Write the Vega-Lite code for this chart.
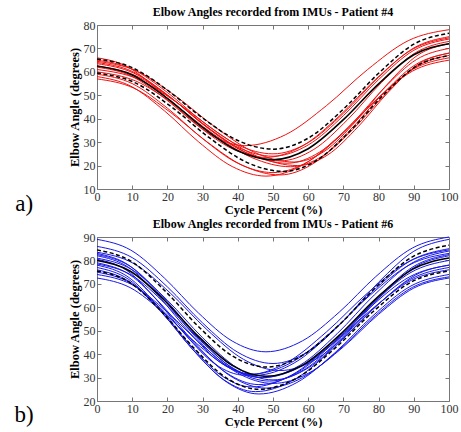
{
"$schema": "https://vega.github.io/schema/vega-lite/v6.json",
"padding": {"left": 14, "top": 5, "right": 6, "bottom": 0},
"background": "white",
"config": {
  "font": "Liberation Serif",
  "view": {"stroke": "#777", "strokeWidth": 1},
  "concat": {"spacing": 0},
  "axis": {"grid": false, "domain": false, "tickColor": "#777", "tickSize": -4, "labelFont": "Liberation Serif", "labelFontSize": 12, "labelColor": "#333", "labelPadding": 6, "labelFlush": false, "labelOverlap": false, "titleFont": "Liberation Serif", "titleFontSize": 12.5, "titleFontWeight": "bold", "titleColor": "black", "titlePadding": 2}
},
"datasets": {
"p4": [
{"c":"r1","k":"t","x":0,"y":66},{"c":"r1","k":"t","x":8.4,"y":62.4},{"c":"r1","k":"t","x":16.8,"y":53},{"c":"r1","k":"t","x":25.2,"y":41.5},{"c":"r1","k":"t","x":33.6,"y":32.1},{"c":"r1","k":"t","x":42,"y":28.5},{"c":"r1","k":"t","x":53.6,"y":33.2},{"c":"r1","k":"t","x":65.2,"y":45.6},{"c":"r1","k":"t","x":76.8,"y":60.9},{"c":"r1","k":"t","x":88.4,"y":73.3},{"c":"r1","k":"t","x":100,"y":78},
{"c":"r2","k":"t","x":0,"y":65},{"c":"r2","k":"t","x":10,"y":61.2},{"c":"r2","k":"t","x":20,"y":51.2},{"c":"r2","k":"t","x":30,"y":38.8},{"c":"r2","k":"t","x":40,"y":28.8},{"c":"r2","k":"t","x":50,"y":25},{"c":"r2","k":"t","x":60,"y":29.8},{"c":"r2","k":"t","x":70,"y":42.3},{"c":"r2","k":"t","x":80,"y":57.7},{"c":"r2","k":"t","x":90,"y":70.2},{"c":"r2","k":"t","x":100,"y":75},
{"c":"r3","k":"t","x":0,"y":64},{"c":"r3","k":"t","x":10,"y":60.2},{"c":"r3","k":"t","x":20,"y":50.2},{"c":"r3","k":"t","x":30,"y":37.8},{"c":"r3","k":"t","x":40,"y":27.8},{"c":"r3","k":"t","x":50,"y":24},{"c":"r3","k":"t","x":60,"y":28.8},{"c":"r3","k":"t","x":70,"y":41.3},{"c":"r3","k":"t","x":80,"y":56.7},{"c":"r3","k":"t","x":90,"y":69.2},{"c":"r3","k":"t","x":100,"y":74},
{"c":"r4","k":"t","x":0,"y":63.5},{"c":"r4","k":"t","x":10.4,"y":59.5},{"c":"r4","k":"t","x":20.8,"y":49.2},{"c":"r4","k":"t","x":31.2,"y":36.3},{"c":"r4","k":"t","x":41.6,"y":26},{"c":"r4","k":"t","x":52,"y":22},{"c":"r4","k":"t","x":61.6,"y":26.9},{"c":"r4","k":"t","x":71.2,"y":39.6},{"c":"r4","k":"t","x":80.8,"y":55.4},{"c":"r4","k":"t","x":90.4,"y":68.1},{"c":"r4","k":"t","x":100,"y":73},
{"c":"r5","k":"t","x":0,"y":62.5},{"c":"r5","k":"t","x":10.8,"y":58.5},{"c":"r5","k":"t","x":21.6,"y":48.2},{"c":"r5","k":"t","x":32.4,"y":35.3},{"c":"r5","k":"t","x":43.2,"y":25},{"c":"r5","k":"t","x":54,"y":21},{"c":"r5","k":"t","x":63.2,"y":25.7},{"c":"r5","k":"t","x":72.4,"y":37.9},{"c":"r5","k":"t","x":81.6,"y":53.1},{"c":"r5","k":"t","x":90.8,"y":65.3},{"c":"r5","k":"t","x":100,"y":70},
{"c":"r6","k":"t","x":0,"y":62},{"c":"r6","k":"t","x":9.6,"y":58.3},{"c":"r6","k":"t","x":19.2,"y":48.7},{"c":"r6","k":"t","x":28.8,"y":36.8},{"c":"r6","k":"t","x":38.4,"y":27.2},{"c":"r6","k":"t","x":48,"y":23.5},{"c":"r6","k":"t","x":58.4,"y":28.4},{"c":"r6","k":"t","x":68.8,"y":41.1},{"c":"r6","k":"t","x":79.2,"y":56.9},{"c":"r6","k":"t","x":89.6,"y":69.6},{"c":"r6","k":"t","x":100,"y":74.5},
{"c":"r7","k":"t","x":0,"y":61},{"c":"r7","k":"t","x":11.4,"y":57.1},{"c":"r7","k":"t","x":22.8,"y":46.8},{"c":"r7","k":"t","x":34.2,"y":34.2},{"c":"r7","k":"t","x":45.6,"y":23.9},{"c":"r7","k":"t","x":57,"y":20},{"c":"r7","k":"t","x":65.6,"y":24.6},{"c":"r7","k":"t","x":74.2,"y":36.6},{"c":"r7","k":"t","x":82.8,"y":51.4},{"c":"r7","k":"t","x":91.4,"y":63.4},{"c":"r7","k":"t","x":100,"y":68},
{"c":"r8","k":"t","x":0,"y":60},{"c":"r8","k":"t","x":11,"y":56.1},{"c":"r8","k":"t","x":22,"y":46},{"c":"r8","k":"t","x":33,"y":33.5},{"c":"r8","k":"t","x":44,"y":23.4},{"c":"r8","k":"t","x":55,"y":19.5},{"c":"r8","k":"t","x":64,"y":24},{"c":"r8","k":"t","x":73,"y":35.9},{"c":"r8","k":"t","x":82,"y":50.6},{"c":"r8","k":"t","x":91,"y":62.5},{"c":"r8","k":"t","x":100,"y":67},
{"c":"r9","k":"t","x":0,"y":59},{"c":"r9","k":"t","x":10,"y":55},{"c":"r9","k":"t","x":20,"y":44.5},{"c":"r9","k":"t","x":30,"y":31.5},{"c":"r9","k":"t","x":40,"y":21},{"c":"r9","k":"t","x":50,"y":17},{"c":"r9","k":"t","x":60,"y":21.7},{"c":"r9","k":"t","x":70,"y":33.9},{"c":"r9","k":"t","x":80,"y":49.1},{"c":"r9","k":"t","x":90,"y":61.3},{"c":"r9","k":"t","x":100,"y":66},
{"c":"r10","k":"t","x":0,"y":58},{"c":"r10","k":"t","x":9.6,"y":53.9},{"c":"r10","k":"t","x":19.2,"y":43.3},{"c":"r10","k":"t","x":28.8,"y":30.2},{"c":"r10","k":"t","x":38.4,"y":19.6},{"c":"r10","k":"t","x":48,"y":15.5},{"c":"r10","k":"t","x":58.4,"y":20.2},{"c":"r10","k":"t","x":68.8,"y":32.6},{"c":"r10","k":"t","x":79.2,"y":47.9},{"c":"r10","k":"t","x":89.6,"y":60.3},{"c":"r10","k":"t","x":100,"y":65},
{"c":"r11","k":"t","x":0,"y":57},{"c":"r11","k":"t","x":10.4,"y":53.1},{"c":"r11","k":"t","x":20.8,"y":42.8},{"c":"r11","k":"t","x":31.2,"y":30.2},{"c":"r11","k":"t","x":41.6,"y":19.9},{"c":"r11","k":"t","x":52,"y":16},{"c":"r11","k":"t","x":61.6,"y":21},{"c":"r11","k":"t","x":71.2,"y":34},{"c":"r11","k":"t","x":80.8,"y":50},{"c":"r11","k":"t","x":90.4,"y":63},{"c":"r11","k":"t","x":100,"y":68},
{"c":"r12","k":"t","x":0,"y":64.5},{"c":"r12","k":"t","x":11.2,"y":60.4},{"c":"r12","k":"t","x":22.4,"y":49.6},{"c":"r12","k":"t","x":33.6,"y":36.4},{"c":"r12","k":"t","x":44.8,"y":25.6},{"c":"r12","k":"t","x":56,"y":21.5},{"c":"r12","k":"t","x":64.8,"y":26.3},{"c":"r12","k":"t","x":73.6,"y":39},{"c":"r12","k":"t","x":82.4,"y":54.6},{"c":"r12","k":"t","x":91.2,"y":67.2},{"c":"r12","k":"t","x":100,"y":72},
{"c":"m","k":"m","x":0,"y":62.5},{"c":"m","k":"m","x":10,"y":58.7},{"c":"m","k":"m","x":20,"y":48.7},{"c":"m","k":"m","x":30,"y":36.3},{"c":"m","k":"m","x":40,"y":26.3},{"c":"m","k":"m","x":50,"y":22.5},{"c":"m","k":"m","x":60,"y":27.2},{"c":"m","k":"m","x":70,"y":39.6},{"c":"m","k":"m","x":80,"y":54.9},{"c":"m","k":"m","x":90,"y":67.3},{"c":"m","k":"m","x":100,"y":72},
{"c":"su","k":"s","x":0,"y":65.5},{"c":"su","k":"s","x":10,"y":61.8},{"c":"su","k":"s","x":20,"y":52.2},{"c":"su","k":"s","x":30,"y":40.3},{"c":"su","k":"s","x":40,"y":30.7},{"c":"su","k":"s","x":50,"y":27},{"c":"su","k":"s","x":60,"y":31.7},{"c":"su","k":"s","x":70,"y":44.1},{"c":"su","k":"s","x":80,"y":59.4},{"c":"su","k":"s","x":90,"y":71.8},{"c":"su","k":"s","x":100,"y":76.5},
{"c":"sl","k":"s","x":0,"y":59.5},{"c":"sl","k":"s","x":10.6,"y":55.5},{"c":"sl","k":"s","x":21.2,"y":45},{"c":"sl","k":"s","x":31.8,"y":32},{"c":"sl","k":"s","x":42.4,"y":21.5},{"c":"sl","k":"s","x":53,"y":17.5},{"c":"sl","k":"s","x":62.4,"y":22.2},{"c":"sl","k":"s","x":71.8,"y":34.6},{"c":"sl","k":"s","x":81.2,"y":49.9},{"c":"sl","k":"s","x":90.6,"y":62.3},{"c":"sl","k":"s","x":100,"y":67}
],
"p6": [
{"c":"b1","k":"t","x":0,"y":89},{"c":"b1","k":"t","x":9.6,"y":84.4},{"c":"b1","k":"t","x":19.2,"y":72.4},{"c":"b1","k":"t","x":28.8,"y":57.6},{"c":"b1","k":"t","x":38.4,"y":45.6},{"c":"b1","k":"t","x":48,"y":41},{"c":"b1","k":"t","x":58.4,"y":45.7},{"c":"b1","k":"t","x":68.8,"y":57.9},{"c":"b1","k":"t","x":79.2,"y":73.1},{"c":"b1","k":"t","x":89.6,"y":85.3},{"c":"b1","k":"t","x":100,"y":90},
{"c":"b2","k":"t","x":0,"y":86},{"c":"b2","k":"t","x":10,"y":81.2},{"c":"b2","k":"t","x":20,"y":68.7},{"c":"b2","k":"t","x":30,"y":53.3},{"c":"b2","k":"t","x":40,"y":40.8},{"c":"b2","k":"t","x":50,"y":36},{"c":"b2","k":"t","x":60,"y":41.1},{"c":"b2","k":"t","x":70,"y":54.3},{"c":"b2","k":"t","x":80,"y":70.7},{"c":"b2","k":"t","x":90,"y":83.9},{"c":"b2","k":"t","x":100,"y":89},
{"c":"b4","k":"t","x":0,"y":83},{"c":"b4","k":"t","x":9,"y":78},{"c":"b4","k":"t","x":18,"y":65},{"c":"b4","k":"t","x":27,"y":49},{"c":"b4","k":"t","x":36,"y":36},{"c":"b4","k":"t","x":45,"y":31},{"c":"b4","k":"t","x":56,"y":36.2},{"c":"b4","k":"t","x":67,"y":49.7},{"c":"b4","k":"t","x":78,"y":66.3},{"c":"b4","k":"t","x":89,"y":79.8},{"c":"b4","k":"t","x":100,"y":85},
{"c":"b5","k":"t","x":0,"y":82.5},{"c":"b5","k":"t","x":9.4,"y":77.5},{"c":"b5","k":"t","x":18.8,"y":64.4},{"c":"b5","k":"t","x":28.2,"y":48.1},{"c":"b5","k":"t","x":37.6,"y":35},{"c":"b5","k":"t","x":47,"y":30},{"c":"b5","k":"t","x":57.6,"y":35.2},{"c":"b5","k":"t","x":68.2,"y":48.7},{"c":"b5","k":"t","x":78.8,"y":65.3},{"c":"b5","k":"t","x":89.4,"y":78.8},{"c":"b5","k":"t","x":100,"y":84},
{"c":"b6","k":"t","x":0,"y":82},{"c":"b6","k":"t","x":8.8,"y":77.2},{"c":"b6","k":"t","x":17.6,"y":64.6},{"c":"b6","k":"t","x":26.4,"y":49},{"c":"b6","k":"t","x":35.2,"y":36.3},{"c":"b6","k":"t","x":44,"y":31.5},{"c":"b6","k":"t","x":55.2,"y":36.4},{"c":"b6","k":"t","x":66.4,"y":49.3},{"c":"b6","k":"t","x":77.6,"y":65.2},{"c":"b6","k":"t","x":88.8,"y":78.1},{"c":"b6","k":"t","x":100,"y":83},
{"c":"b7","k":"t","x":0,"y":81},{"c":"b7","k":"t","x":10,"y":76},{"c":"b7","k":"t","x":20,"y":63},{"c":"b7","k":"t","x":30,"y":47},{"c":"b7","k":"t","x":40,"y":34},{"c":"b7","k":"t","x":50,"y":29},{"c":"b7","k":"t","x":60,"y":34.1},{"c":"b7","k":"t","x":70,"y":47.3},{"c":"b7","k":"t","x":80,"y":63.7},{"c":"b7","k":"t","x":90,"y":76.9},{"c":"b7","k":"t","x":100,"y":82},
{"c":"b8","k":"t","x":0,"y":79},{"c":"b8","k":"t","x":9.2,"y":74},{"c":"b8","k":"t","x":18.4,"y":61},{"c":"b8","k":"t","x":27.6,"y":45},{"c":"b8","k":"t","x":36.8,"y":32},{"c":"b8","k":"t","x":46,"y":27},{"c":"b8","k":"t","x":56.8,"y":32.1},{"c":"b8","k":"t","x":67.6,"y":45.3},{"c":"b8","k":"t","x":78.4,"y":61.7},{"c":"b8","k":"t","x":89.2,"y":74.9},{"c":"b8","k":"t","x":100,"y":80},
{"c":"b9","k":"t","x":0,"y":78},{"c":"b9","k":"t","x":8.8,"y":73},{"c":"b9","k":"t","x":17.6,"y":60},{"c":"b9","k":"t","x":26.4,"y":44},{"c":"b9","k":"t","x":35.2,"y":31},{"c":"b9","k":"t","x":44,"y":26},{"c":"b9","k":"t","x":55.2,"y":31},{"c":"b9","k":"t","x":66.4,"y":44},{"c":"b9","k":"t","x":77.6,"y":60},{"c":"b9","k":"t","x":88.8,"y":73},{"c":"b9","k":"t","x":100,"y":78},
{"c":"b10","k":"t","x":0,"y":77},{"c":"b10","k":"t","x":9,"y":71.9},{"c":"b10","k":"t","x":18,"y":58.7},{"c":"b10","k":"t","x":27,"y":42.3},{"c":"b10","k":"t","x":36,"y":29.1},{"c":"b10","k":"t","x":45,"y":24},{"c":"b10","k":"t","x":56,"y":29.1},{"c":"b10","k":"t","x":67,"y":42.3},{"c":"b10","k":"t","x":78,"y":58.7},{"c":"b10","k":"t","x":89,"y":71.9},{"c":"b10","k":"t","x":100,"y":77},
{"c":"b11","k":"t","x":0,"y":76},{"c":"b11","k":"t","x":9.2,"y":70.9},{"c":"b11","k":"t","x":18.4,"y":57.7},{"c":"b11","k":"t","x":27.6,"y":41.3},{"c":"b11","k":"t","x":36.8,"y":28.1},{"c":"b11","k":"t","x":46,"y":23},{"c":"b11","k":"t","x":56.8,"y":27.9},{"c":"b11","k":"t","x":67.6,"y":40.6},{"c":"b11","k":"t","x":78.4,"y":56.4},{"c":"b11","k":"t","x":89.2,"y":69.1},{"c":"b11","k":"t","x":100,"y":74},
{"c":"b12","k":"t","x":0,"y":75},{"c":"b12","k":"t","x":9.6,"y":70.3},{"c":"b12","k":"t","x":19.2,"y":57.9},{"c":"b12","k":"t","x":28.8,"y":42.6},{"c":"b12","k":"t","x":38.4,"y":30.2},{"c":"b12","k":"t","x":48,"y":25.5},{"c":"b12","k":"t","x":58.4,"y":30},{"c":"b12","k":"t","x":68.8,"y":41.9},{"c":"b12","k":"t","x":79.2,"y":56.6},{"c":"b12","k":"t","x":89.6,"y":68.5},{"c":"b12","k":"t","x":100,"y":73},
{"c":"b13","k":"t","x":0,"y":74},{"c":"b13","k":"t","x":10,"y":69.6},{"c":"b13","k":"t","x":20,"y":57.9},{"c":"b13","k":"t","x":30,"y":43.6},{"c":"b13","k":"t","x":40,"y":31.9},{"c":"b13","k":"t","x":50,"y":27.5},{"c":"b13","k":"t","x":60,"y":31.8},{"c":"b13","k":"t","x":70,"y":43.1},{"c":"b13","k":"t","x":80,"y":57},{"c":"b13","k":"t","x":90,"y":68.2},{"c":"b13","k":"t","x":100,"y":72.5},
{"c":"b14","k":"t","x":0,"y":72.5},{"c":"b14","k":"t","x":9.4,"y":68.4},{"c":"b14","k":"t","x":18.8,"y":57.8},{"c":"b14","k":"t","x":28.2,"y":44.7},{"c":"b14","k":"t","x":37.6,"y":34.1},{"c":"b14","k":"t","x":47,"y":30},{"c":"b14","k":"t","x":57.6,"y":34.4},{"c":"b14","k":"t","x":68.2,"y":45.9},{"c":"b14","k":"t","x":78.8,"y":60.1},{"c":"b14","k":"t","x":89.4,"y":71.6},{"c":"b14","k":"t","x":100,"y":76},
{"c":"b15","k":"t","x":0,"y":83.5},{"c":"b15","k":"t","x":10.4,"y":78.7},{"c":"b15","k":"t","x":20.8,"y":66.1},{"c":"b15","k":"t","x":31.2,"y":50.5},{"c":"b15","k":"t","x":41.6,"y":37.8},{"c":"b15","k":"t","x":52,"y":33},{"c":"b15","k":"t","x":61.6,"y":37.3},{"c":"b15","k":"t","x":71.2,"y":48.6},{"c":"b15","k":"t","x":80.8,"y":62.5},{"c":"b15","k":"t","x":90.4,"y":73.7},{"c":"b15","k":"t","x":100,"y":78},
{"c":"b16","k":"t","x":0,"y":80.5},{"c":"b16","k":"t","x":8.4,"y":75.8},{"c":"b16","k":"t","x":16.8,"y":63.4},{"c":"b16","k":"t","x":25.2,"y":48.1},{"c":"b16","k":"t","x":33.6,"y":35.7},{"c":"b16","k":"t","x":42,"y":31},{"c":"b16","k":"t","x":53.6,"y":36.1},{"c":"b16","k":"t","x":65.2,"y":49.5},{"c":"b16","k":"t","x":76.8,"y":66},{"c":"b16","k":"t","x":88.4,"y":79.4},{"c":"b16","k":"t","x":100,"y":84.5},
{"c":"b17","k":"t","x":0,"y":78.5},{"c":"b17","k":"t","x":9.8,"y":73.7},{"c":"b17","k":"t","x":19.6,"y":61.2},{"c":"b17","k":"t","x":29.4,"y":45.8},{"c":"b17","k":"t","x":39.2,"y":33.3},{"c":"b17","k":"t","x":49,"y":28.5},{"c":"b17","k":"t","x":59.2,"y":33.7},{"c":"b17","k":"t","x":69.4,"y":47.2},{"c":"b17","k":"t","x":79.6,"y":63.8},{"c":"b17","k":"t","x":89.8,"y":77.3},{"c":"b17","k":"t","x":100,"y":82.5},
{"c":"m","k":"m","x":0,"y":80},{"c":"m","k":"m","x":9.6,"y":75.3},{"c":"m","k":"m","x":19.2,"y":62.9},{"c":"m","k":"m","x":28.8,"y":47.6},{"c":"m","k":"m","x":38.4,"y":35.2},{"c":"m","k":"m","x":48,"y":30.5},{"c":"m","k":"m","x":58.4,"y":35.3},{"c":"m","k":"m","x":68.8,"y":48},{"c":"m","k":"m","x":79.2,"y":63.6},{"c":"m","k":"m","x":89.6,"y":76.2},{"c":"m","k":"m","x":100,"y":81},
{"c":"su","k":"s","x":0,"y":84.5},{"c":"su","k":"s","x":9.6,"y":79.7},{"c":"su","k":"s","x":19.2,"y":67.2},{"c":"su","k":"s","x":28.8,"y":51.8},{"c":"su","k":"s","x":38.4,"y":39.3},{"c":"su","k":"s","x":48,"y":34.5},{"c":"su","k":"s","x":58.4,"y":39.5},{"c":"su","k":"s","x":68.8,"y":52.5},{"c":"su","k":"s","x":79.2,"y":68.5},{"c":"su","k":"s","x":89.6,"y":81.5},{"c":"su","k":"s","x":100,"y":86.5},
{"c":"sl","k":"s","x":0,"y":75.5},{"c":"sl","k":"s","x":9.2,"y":70.7},{"c":"sl","k":"s","x":18.4,"y":58.1},{"c":"sl","k":"s","x":27.6,"y":42.5},{"c":"sl","k":"s","x":36.8,"y":29.8},{"c":"sl","k":"s","x":46,"y":25},{"c":"sl","k":"s","x":56.8,"y":29.8},{"c":"sl","k":"s","x":67.6,"y":42.5},{"c":"sl","k":"s","x":78.4,"y":58.1},{"c":"sl","k":"s","x":89.2,"y":70.7},{"c":"sl","k":"s","x":100,"y":75.5}
]
},
"vconcat": [
{
  "width": 352, "height": 164,
  "title": {"text": "Elbow Angles recorded from IMUs - Patient #4", "font": "Liberation Serif", "fontSize": 12, "fontWeight": "bold", "color": "black", "offset": 0},
  "data": {"name": "p4"},
  "resolve": {"axis": {"x": "independent", "y": "independent"}},
  "layer": [
    {"transform": [{"filter": "datum.k == 't'"}],
     "mark": {"type": "line", "color": "#f01010", "strokeWidth": 1, "interpolate": "monotone"},
     "encoding": {
       "x": {"field": "x", "type": "quantitative", "scale": {"domain": [0, 100]}, "axis": {"values": [0,10,20,30,40,50,60,70,80,90,100], "title": "Cycle Percent (%)", "labelFont": "Liberation Serif", "titleFont": "Liberation Serif", "labelFontSize": 12, "titleFontSize": 12.5, "titleFontWeight": "bold", "labelColor": "#333", "titleColor": "black", "tickSize": -4, "labelPadding": 6, "titlePadding": 1, "labelOverlap": false}},
       "y": {"field": "y", "type": "quantitative", "scale": {"domain": [10, 80]}, "axis": {"values": [10,20,30,40,50,60,70,80], "title": "Elbow Angle (degrees)", "labelFont": "Liberation Serif", "titleFont": "Liberation Serif", "labelFontSize": 12, "titleFontSize": 12.5, "titleFontWeight": "bold", "labelColor": "#333", "titleColor": "black", "tickSize": -4, "labelPadding": 6, "titlePadding": 2, "labelOverlap": false}},
       "detail": {"field": "c"}}},
    {"transform": [{"filter": "datum.k == 'm'"}],
     "mark": {"type": "line", "color": "black", "strokeWidth": 1.6, "interpolate": "monotone"},
     "encoding": {
       "x": {"field": "x", "type": "quantitative", "scale": {"domain": [0, 100]}, "axis": null},
       "y": {"field": "y", "type": "quantitative", "scale": {"domain": [10, 80]}, "axis": null},
       "detail": {"field": "c"}}},
    {"transform": [{"filter": "datum.k == 's'"}],
     "mark": {"type": "line", "color": "black", "strokeWidth": 1.5, "strokeDash": [4, 2.5], "interpolate": "monotone"},
     "encoding": {
       "x": {"field": "x", "type": "quantitative", "scale": {"domain": [0, 100]}, "axis": null},
       "y": {"field": "y", "type": "quantitative", "scale": {"domain": [10, 80]}, "axis": null},
       "detail": {"field": "c"}}},
    {"transform": [{"filter": "datum.k == 'm'"}],
     "mark": {"type": "line", "opacity": 0},
     "encoding": {
       "x": {"field": "x", "type": "quantitative", "scale": {"domain": [0, 100]}, "axis": {"orient": "top", "labels": false, "title": null, "values": [0,10,20,30,40,50,60,70,80,90,100]}},
       "y": {"field": "y", "type": "quantitative", "scale": {"domain": [10, 80]}, "axis": {"orient": "right", "labels": false, "title": null, "values": [10,20,30,40,50,60,70,80]}}}},
    {"data": {"values": [{}]},
     "mark": {"type": "text", "font": "Liberation Serif", "fontSize": 23, "align": "center", "baseline": "middle", "color": "black"},
     "encoding": {
       "x": {"datum": -20.7, "type": "quantitative", "scale": {"domain": [0, 100]}, "axis": null},
       "y": {"datum": 3.6, "type": "quantitative", "scale": {"domain": [10, 80]}, "axis": null},
       "text": {"value": "a)"}}}
  ]
},
{
  "width": 352, "height": 164,
  "title": {"text": "Elbow Angles recorded from IMUs - Patient #6", "font": "Liberation Serif", "fontSize": 12, "fontWeight": "bold", "color": "black", "offset": 0},
  "data": {"name": "p6"},
  "resolve": {"axis": {"x": "independent", "y": "independent"}},
  "layer": [
    {"transform": [{"filter": "datum.k == 't'"}],
     "mark": {"type": "line", "color": "#1818e8", "strokeWidth": 1, "interpolate": "monotone"},
     "encoding": {
       "x": {"field": "x", "type": "quantitative", "scale": {"domain": [0, 100]}, "axis": {"values": [0,10,20,30,40,50,60,70,80,90,100], "title": "Cycle Percent (%)", "labelFont": "Liberation Serif", "titleFont": "Liberation Serif", "labelFontSize": 12, "titleFontSize": 12.5, "titleFontWeight": "bold", "labelColor": "#333", "titleColor": "black", "tickSize": -4, "labelPadding": 6, "titlePadding": 1, "labelOverlap": false}},
       "y": {"field": "y", "type": "quantitative", "scale": {"domain": [20, 90]}, "axis": {"values": [20,30,40,50,60,70,80,90], "title": "Elbow Angle (degrees)", "labelFont": "Liberation Serif", "titleFont": "Liberation Serif", "labelFontSize": 12, "titleFontSize": 12.5, "titleFontWeight": "bold", "labelColor": "#333", "titleColor": "black", "tickSize": -4, "labelPadding": 6, "titlePadding": 2, "labelOverlap": false}},
       "detail": {"field": "c"}}},
    {"transform": [{"filter": "datum.k == 'm'"}],
     "mark": {"type": "line", "color": "black", "strokeWidth": 1.6, "interpolate": "monotone"},
     "encoding": {
       "x": {"field": "x", "type": "quantitative", "scale": {"domain": [0, 100]}, "axis": null},
       "y": {"field": "y", "type": "quantitative", "scale": {"domain": [20, 90]}, "axis": null},
       "detail": {"field": "c"}}},
    {"transform": [{"filter": "datum.k == 's'"}],
     "mark": {"type": "line", "color": "black", "strokeWidth": 1.5, "strokeDash": [4, 2.5], "interpolate": "monotone"},
     "encoding": {
       "x": {"field": "x", "type": "quantitative", "scale": {"domain": [0, 100]}, "axis": null},
       "y": {"field": "y", "type": "quantitative", "scale": {"domain": [20, 90]}, "axis": null},
       "detail": {"field": "c"}}},
    {"transform": [{"filter": "datum.k == 'm'"}],
     "mark": {"type": "line", "opacity": 0},
     "encoding": {
       "x": {"field": "x", "type": "quantitative", "scale": {"domain": [0, 100]}, "axis": {"orient": "top", "labels": false, "title": null, "values": [0,10,20,30,40,50,60,70,80,90,100]}},
       "y": {"field": "y", "type": "quantitative", "scale": {"domain": [20, 90]}, "axis": {"orient": "right", "labels": false, "title": null, "values": [20,30,40,50,60,70,80,90]}}}},
    {"data": {"values": [{}]},
     "mark": {"type": "text", "font": "Liberation Serif", "fontSize": 23, "align": "center", "baseline": "middle", "color": "black"},
     "encoding": {
       "x": {"datum": -20.7, "type": "quantitative", "scale": {"domain": [0, 100]}, "axis": null},
       "y": {"datum": 14.1, "type": "quantitative", "scale": {"domain": [20, 90]}, "axis": null},
       "text": {"value": "b)"}}}
  ]
}
]
}
